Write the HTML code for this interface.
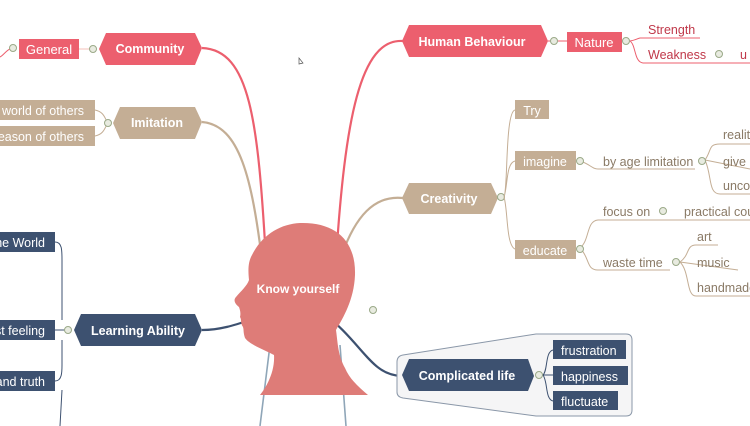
<!DOCTYPE html>
<html><head><meta charset="utf-8"><style>
html,body{margin:0;padding:0;background:#fff;}
svg{display:block;font-family:"Liberation Sans",Arial,sans-serif;}
</style></head><body>
<svg width="750" height="426" viewBox="0 0 750 426" xmlns="http://www.w3.org/2000/svg">
<g fill="none" stroke-width="2.2">
<path d="M202,48 C250,50 258,120 266,260" stroke="#ec5f6e"/>
<path d="M403,41 C360,38 345,120 336,260" stroke="#ec5f6e"/>
<path d="M202,122 C240,125 252,180 262,260" stroke="#c4ae95"/>
<path d="M403,198 C375,195 355,215 340,260" stroke="#c4ae95"/>
<path d="M202,330 C220,330 235,325 250,320" stroke="#3d5170"/>
<path d="M320,310 C365,345 370,375 402,376" stroke="#3d5170"/>
<path d="M270,345 L260,426 M340,345 L346,426" stroke="#8fa6b8" stroke-width="1.6"/>
</g>
<path d="M300,223 C335,222 356,240 355,275 C354,300 343,318 336,330 C338,345 338,355 345,368 C350,380 360,388 368,395 L260,395 C268,385 275,370 274,355 C265,350 250,345 245,338 C243,332 244,330 243,327 C240,323 242,320 240,317 C241,313 240,310 239,307 C235,304 233,300 236,297 C241,291 247,286 249,280 C248,270 248,262 252,255 C262,235 280,224 300,223 Z" fill="#de7c78"/>
<text x="298" y="293" fill="#fff" font-size="12" font-weight="bold" text-anchor="middle">Know yourself</text>

<path d="M0,57 C4,55 6,50 12,48" stroke="#ec5f6e" fill="none" stroke-width="1"/>
<circle cx="13" cy="48" r="3.5" fill="#e8ebe0" stroke="#9aa988"/>
<rect x="19" y="39" width="60" height="20" fill="#ec5f6e"/>
<text x="49" y="54" fill="#fff" font-size="13" text-anchor="middle">General</text>
<line x1="79" y1="49" x2="93" y2="49" stroke="#f5c2b8"/>
<circle cx="93" cy="49" r="3.5" fill="#e8ebe0" stroke="#9aa988"/>
<polygon points="106,33 195,33 202,48 195,65 106,65 99,49" fill="#ec5f6e"/>
<text x="150" y="53" fill="#fff" font-size="12.5" font-weight="bold" text-anchor="middle">Community</text>

<rect x="0" y="100" width="95" height="20" fill="#c4ae95"/>
<text x="84" y="115" fill="#fff" font-size="12.5" text-anchor="end">r world of others</text>
<rect x="0" y="126" width="95" height="20" fill="#c4ae95"/>
<text x="84" y="141" fill="#fff" font-size="12.5" text-anchor="end">reason of others</text>
<path d="M95,110 C105,112 105,120 108,123 C105,126 105,134 95,136" stroke="#c4ae95" fill="none"/>
<circle cx="108" cy="123" r="3.5" fill="#e8ebe0" stroke="#9aa988"/>
<polygon points="120,107 195,107 202,122 195,139 120,139 113,123" fill="#c4ae95"/>
<text x="157" y="127" fill="#fff" font-size="12.5" font-weight="bold" text-anchor="middle">Imitation</text>

<rect x="0" y="232" width="55" height="20" fill="#3d5170"/>
<text x="45" y="247" fill="#fff" font-size="12.5" text-anchor="end">he World</text>
<rect x="0" y="320" width="55" height="20" fill="#3d5170"/>
<text x="45" y="335" fill="#fff" font-size="12.5" text-anchor="end">st feeling</text>
<rect x="0" y="371" width="55" height="20" fill="#3d5170"/>
<text x="45" y="386" fill="#fff" font-size="12.5" text-anchor="end">and truth</text>
<path d="M55,242 C62,242 62,250 62,260 L62,320 M55,330 L68,330 M55,381 C62,381 62,372 62,365 L62,340 M62,390 L60,426" stroke="#3d5170" fill="none" stroke-width="1"/>
<circle cx="68" cy="330" r="3.5" fill="#e8ebe0" stroke="#9aa988"/>
<polygon points="81,314 195,314 202,330 195,346 81,346 74,330" fill="#3d5170"/>
<text x="138" y="335" fill="#fff" font-size="12.5" font-weight="bold" text-anchor="middle">Learning Ability</text>

<polygon points="409,25 541,25 548,41 541,57 409,57 402,41" fill="#ec5f6e"/>
<text x="472" y="46" fill="#fff" font-size="12.5" font-weight="bold" text-anchor="middle">Human Behaviour</text>
<line x1="548" y1="41" x2="568" y2="41" stroke="#ec5f6e"/>
<circle cx="554" cy="41" r="3.5" fill="#e8ebe0" stroke="#9aa988"/>
<rect x="567" y="32" width="55" height="20" fill="#ec5f6e"/>
<text x="594" y="47" fill="#fff" font-size="13" text-anchor="middle">Nature</text>
<circle cx="626" cy="41" r="3.5" fill="#e8ebe0" stroke="#9aa988"/>
<path d="M630,41 C636,40 636,39 640,38 L700,38 M630,41 C636,45 634,62 643,63 L750,63" stroke="#ec5f6e" fill="none" stroke-width="1"/>
<text x="648" y="34" fill="#c0394a" font-size="12.5">Strength</text>
<text x="648" y="59" fill="#c0394a" font-size="12.5">Weakness</text>
<circle cx="719" cy="54" r="3.5" fill="#e8ebe0" stroke="#9aa988"/>
<text x="740" y="59" fill="#c0394a" font-size="12.5">u</text>

<polygon points="409,183 491,183 498,198 491,214 409,214 402,198" fill="#c4ae95"/>
<text x="449" y="203" fill="#fff" font-size="12.5" font-weight="bold" text-anchor="middle">Creativity</text>
<circle cx="501" cy="197" r="3.5" fill="#e8ebe0" stroke="#9aa988"/>
<path d="M504,197 C508,190 505,112 515,110 M504,197 C508,185 506,163 515,161 M504,197 C508,210 506,245 515,249" stroke="#c4ae95" fill="none" stroke-width="1"/>
<rect x="515" y="100" width="34" height="19" fill="#c4ae95"/>
<text x="532" y="115" fill="#fff" font-size="12.5" text-anchor="middle">Try</text>
<rect x="515" y="151" width="61" height="19" fill="#c4ae95"/>
<text x="545" y="166" fill="#fff" font-size="12.5" text-anchor="middle">imagine</text>
<rect x="515" y="240" width="61" height="19" fill="#c4ae95"/>
<text x="545" y="255" fill="#fff" font-size="12.5" text-anchor="middle">educate</text>
<g stroke="#c4ae95" fill="none" stroke-width="1">
<path d="M580,161 C590,164 592,169 598,169 L695,169"/>
<path d="M705,160 C712,150 708,144 720,144 L750,144 M705,160 L750,169 M705,160 C712,175 708,194 720,194 L750,194"/>
<path d="M580,248 C590,240 586,221 598,220 L750,220 M580,248 C590,258 586,270 598,270 L670,270"/>
<path d="M680,262 C690,255 686,245 696,245 L718,245 M680,262 L738,270 M680,262 C690,272 686,296 696,296 L750,296"/>
</g>
<circle cx="580" cy="161" r="3.5" fill="#e8ebe0" stroke="#9aa988"/>
<circle cx="702" cy="161" r="3.5" fill="#e8ebe0" stroke="#9aa988"/>
<circle cx="580" cy="249" r="3.5" fill="#e8ebe0" stroke="#9aa988"/>
<circle cx="663" cy="211" r="3.5" fill="#e8ebe0" stroke="#9aa988"/>
<circle cx="676" cy="262" r="3.5" fill="#e8ebe0" stroke="#9aa988"/>
<circle cx="373" cy="310" r="3.5" fill="#e8ebe0" stroke="#9aa988"/>
<g fill="#8a7a66" font-size="12.5">
<text x="603" y="166">by age limitation</text>
<text x="723" y="139">realit</text>
<text x="723" y="166">give i</text>
<text x="723" y="190">unco</text>
<text x="603" y="216">focus on</text>
<text x="684" y="216">practical cou</text>
<text x="603" y="267">waste time</text>
<text x="697" y="241">art</text>
<text x="697" y="267">music</text>
<text x="697" y="292">handmade</text>
</g>

<path d="M403,355 Q397,356 397,362 L397,392 Q397,397 403,398 L536,416 L626,416 Q632,416 632,410 L632,340 Q632,334 626,334 L536,334 Z" fill="#f5f5f6" stroke="#8a97a8" stroke-width="1"/>
<polygon points="409,359 528,359 534,376 528,391 409,391 402,375" fill="#3d5170"/>
<text x="467" y="380" fill="#fff" font-size="12.5" font-weight="bold" text-anchor="middle">Complicated life</text>
<circle cx="539" cy="375" r="3.5" fill="#e8ebe0" stroke="#9aa988"/>
<path d="M543,375 C548,370 545,352 553,350 M543,375 L553,375 M543,375 C548,382 545,399 553,401" stroke="#3d5170" fill="none" stroke-width="1"/>
<rect x="553" y="340" width="73" height="19" fill="#3d5170"/>
<text x="561" y="355" fill="#fff" font-size="12.5">frustration</text>
<rect x="553" y="366" width="75" height="19" fill="#3d5170"/>
<text x="561" y="381" fill="#fff" font-size="12.5">happiness</text>
<rect x="553" y="391" width="65" height="19" fill="#3d5170"/>
<text x="561" y="406" fill="#fff" font-size="12.5">fluctuate</text>

<path d="M299,58 L299,64 L303,63 Z" fill="none" stroke="#555" stroke-width="0.7"/>
</svg>
</body></html>
